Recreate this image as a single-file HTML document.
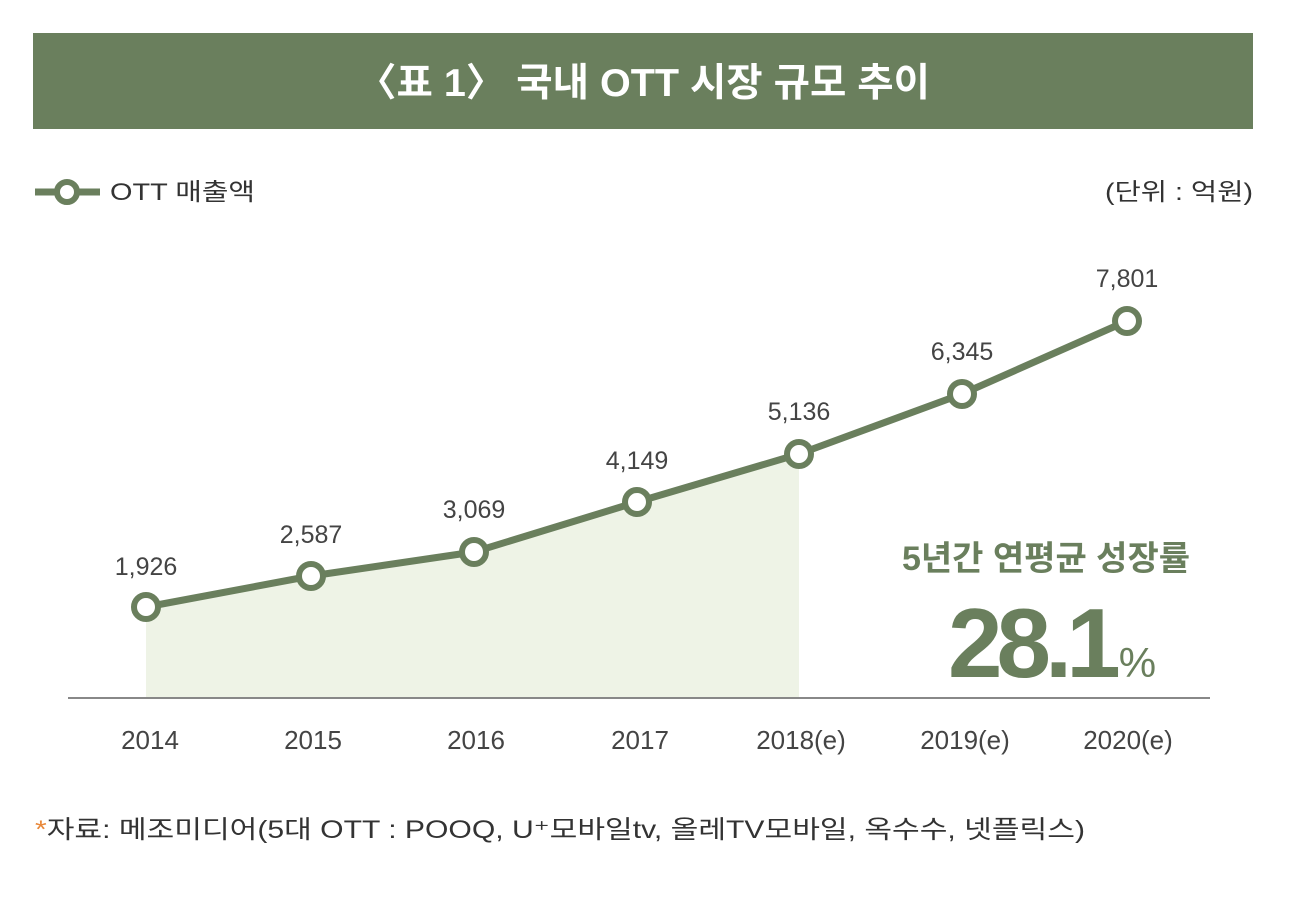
<!DOCTYPE html>
<html><head><meta charset="utf-8"><style>
html,body{margin:0;padding:0;background:#fff;}
svg{display:block;font-family:"Liberation Sans","Noto Sans CJK KR",sans-serif;}
</style></head><body>
<svg width="1298" height="920" viewBox="0 0 1298 920">
<rect x="33" y="33" width="1220" height="96" fill="#6a7f5d"/>
<text x="357" y="96" textLength="573" lengthAdjust="spacingAndGlyphs" fill="#fff" font-size="39" font-weight="bold">〈표 1〉 국내 OTT 시장 규모 추이</text>
<line x1="35" y1="192" x2="100" y2="192" stroke="#6a7f5d" stroke-width="7"/>
<circle cx="67" cy="192" r="10" fill="#fff" stroke="#6a7f5d" stroke-width="6"/>
<text x="110" y="200" font-size="24" fill="#333" textLength="145" lengthAdjust="spacingAndGlyphs">OTT 매출액</text>
<text x="1105" y="200" font-size="24" fill="#333" textLength="148" lengthAdjust="spacingAndGlyphs">(단위 : 억원)</text>
<polygon points="146,607 311,576 474,552 637,502 799,454 799,698 146,698" fill="#eef3e6"/>
<line x1="68" y1="698" x2="1210" y2="698" stroke="#888" stroke-width="2"/>
<polyline points="146,607 311,576 474,552 637,502 799,454 962,394 1127,321" fill="none" stroke="#6a7f5d" stroke-width="7" stroke-linejoin="round"/>
<g fill="#fff" stroke="#6a7f5d" stroke-width="6">
<circle cx="146" cy="607" r="12"/><circle cx="311" cy="576" r="12"/><circle cx="474" cy="552" r="12"/><circle cx="637" cy="502" r="12"/><circle cx="799" cy="454" r="12"/><circle cx="962" cy="394" r="12"/><circle cx="1127" cy="321" r="12"/>
</g>
<g font-size="25" fill="#444" text-anchor="middle">
<text x="146" y="575">1,926</text><text x="311" y="543">2,587</text><text x="474" y="518">3,069</text><text x="637" y="469">4,149</text><text x="799" y="420">5,136</text><text x="962" y="360">6,345</text><text x="1127" y="287">7,801</text>
</g>
<g font-size="26" fill="#444" text-anchor="middle">
<text x="150" y="749">2014</text><text x="313" y="749">2015</text><text x="476" y="749">2016</text><text x="640" y="749">2017</text><text x="801" y="749">2018(e)</text><text x="965" y="749">2019(e)</text><text x="1128" y="749">2020(e)</text>
</g>
<text x="1046" y="570" text-anchor="middle" font-size="34" font-weight="bold" fill="#6a7f5d">5년간 연평균 성장률</text>
<text x="948" y="677" font-size="98" font-weight="bold" fill="#6a7f5d" letter-spacing="-6">28.1<tspan font-size="42" font-weight="normal" letter-spacing="0" dx="4">%</tspan></text>
<text x="35" y="838" font-size="25" fill="#333" textLength="1050" lengthAdjust="spacingAndGlyphs"><tspan fill="#e8883a">*</tspan>자료: 메조미디어(5대 OTT : POOQ, U⁺모바일tv, 올레TV모바일, 옥수수, 넷플릭스)</text>
</svg>
</body></html>
